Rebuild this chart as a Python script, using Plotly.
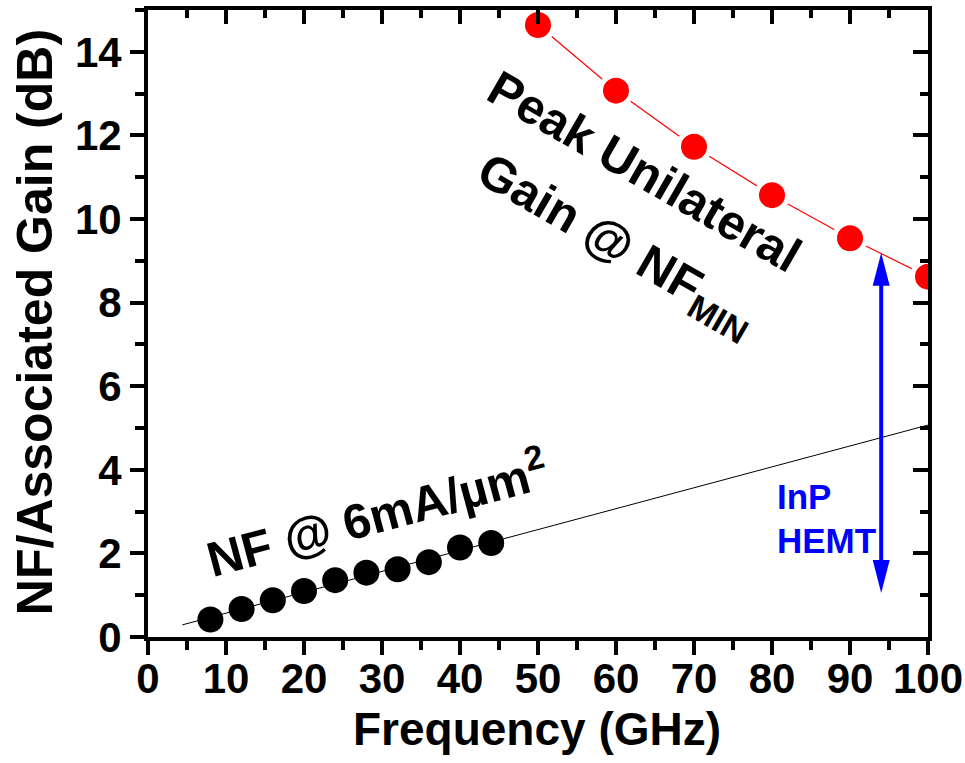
import plotly.graph_objects as go

# ---- data ----
nf_freq = [8, 12, 16, 20, 24, 28, 32, 36, 40, 44]
nf_vals = [0.42, 0.67, 0.88, 1.10, 1.36, 1.54, 1.62, 1.79, 2.14, 2.25]

fit_freq = [4.4, 100]
fit_vals = [0.29, 5.07]

gain_freq = [50, 60, 70, 80, 90, 100]
gain_vals = [14.64, 13.07, 11.73, 10.57, 9.54, 8.62]

arrow_x = 94.0
arrow_y = [1.05, 9.19]

x_ticks = [0, 10, 20, 30, 40, 50, 60, 70, 80, 90, 100]
y_ticks = [0, 2, 4, 6, 8, 10, 12, 14]

FONT = "Liberation Sans, Arial, sans-serif"
BLUE = "#0000FF"

fig = go.Figure()

# NF linear fit line
fig.add_trace(go.Scatter(x=fit_freq, y=fit_vals, mode="lines",
                         line=dict(color="black", width=1), showlegend=False))
# NF points
fig.add_trace(go.Scatter(x=nf_freq, y=nf_vals, mode="markers",
                         marker=dict(color="black", size=26, line=dict(width=0)),
                         showlegend=False))
# Gain points with line (white halo creates gaps)
fig.add_trace(go.Scatter(x=gain_freq, y=gain_vals, mode="lines+markers",
                         line=dict(color="#FF0000", width=1.2),
                         marker=dict(color="#FF0000", size=31, line=dict(color="white", width=5)),
                         showlegend=False))

# arrow shaft
fig.add_trace(go.Scatter(x=[arrow_x, arrow_x], y=[arrow_y[0] + 0.6, arrow_y[1] - 0.6],
                         mode="lines", line=dict(color=BLUE, width=4), showlegend=False))

# arrow heads (pixel-sized paths anchored at data points)
fig.add_shape(type="path", xref="x", yref="y", xsizemode="pixel", ysizemode="pixel",
              xanchor=arrow_x, yanchor=arrow_y[1], path="M0,0 L-8.5,-33 L8.5,-33 Z",
              fillcolor=BLUE, line=dict(width=0))
fig.add_shape(type="path", xref="x", yref="y", xsizemode="pixel", ysizemode="pixel",
              xanchor=arrow_x, yanchor=arrow_y[0], path="M0,0 L-8.5,33 L8.5,33 Z",
              fillcolor=BLUE, line=dict(width=0))

# text annotations
fig.add_annotation(x=63.6, y=11.15, xref="x", yref="y", text="Peak Unilateral",
                   textangle=30, showarrow=False,
                   font=dict(family=FONT, size=49, color="black", weight="bold"))
fig.add_annotation(x=60.0, y=9.35, xref="x", yref="y", text="Gain @ NF<sub>MIN</sub>",
                   textangle=30, showarrow=False,
                   font=dict(family=FONT, size=49, color="black", weight="bold"))
fig.add_annotation(x=29.3, y=3.0, xref="x", yref="y", text="NF @ 6mA/µm<sup>2</sup>",
                   textangle=-15, showarrow=False,
                   font=dict(family=FONT, size=49, color="black", weight="bold"))
fig.add_annotation(x=80.4, y=3.35, xref="x", yref="y", text="InP", xanchor="left",
                   yanchor="middle", showarrow=False,
                   font=dict(family=FONT, size=35, color=BLUE, weight="bold"))
fig.add_annotation(x=80.4, y=2.32, xref="x", yref="y", text="HEMT", xanchor="left",
                   yanchor="middle", showarrow=False,
                   font=dict(family=FONT, size=35, color=BLUE, weight="bold"))

# axis titles as paper annotations
fig.add_annotation(x=0.499, y=-0.147, xref="paper", yref="paper", text="Frequency (GHz)",
                   showarrow=False, xanchor="center", yanchor="middle",
                   font=dict(family=FONT, size=46, color="black", weight="bold"))
fig.add_annotation(x=-0.145, y=0.502, xref="paper", yref="paper",
                   text="NF/Associated Gain (dB)", textangle=-90,
                   showarrow=False, xanchor="center", yanchor="middle",
                   font=dict(family=FONT, size=50, color="black", weight="bold"))

tickfont = dict(family=FONT, size=42, color="black", weight="bold")
common = dict(showline=True, linecolor="black", linewidth=4, showgrid=False,
              zeroline=False, tickcolor="black", tickwidth=3.5, automargin=False)

fig.update_layout(
    width=965, height=763,
    margin=dict(l=148, r=37, t=10, b=126, autoexpand=False),
    plot_bgcolor="white", paper_bgcolor="white",
    xaxis=dict(range=[0, 100], tickvals=x_ticks, ticktext=[str(v) for v in x_ticks],
               ticks="outside", ticklen=14, tickfont=tickfont, ticklabelstandoff=-12,
               minor=dict(dtick=5, ticks="outside", ticklen=9, tickwidth=3.5, tickcolor="black"),
               **common),
    xaxis2=dict(range=[0, 100], overlaying="x", side="top", anchor="y",
                tickvals=x_ticks, ticks="inside", ticklen=14, showticklabels=False,
                minor=dict(dtick=5, ticks="inside", ticklen=8, tickwidth=3.5, tickcolor="black"),
                **common),
    yaxis=dict(range=[0, 15], tickvals=y_ticks, ticktext=[str(v) for v in y_ticks],
               ticks="outside", ticklen=14, tickfont=tickfont,
               minor=dict(dtick=1, ticks="outside", ticklen=9, tickwidth=3.5, tickcolor="black"),
               **common),
    yaxis2=dict(range=[0, 15], overlaying="y", side="right", anchor="x",
                tickvals=y_ticks, ticks="inside", ticklen=15, showticklabels=False,
                minor=dict(dtick=1, ticks="inside", ticklen=8, tickwidth=3.5, tickcolor="black"),
                **common),
)

# dummy trace to activate the mirrored axes
fig.add_trace(go.Scatter(x=[None], y=[None], xaxis="x2", yaxis="y2", showlegend=False,
                         hoverinfo="skip"))

fig.write_html("out.html")
